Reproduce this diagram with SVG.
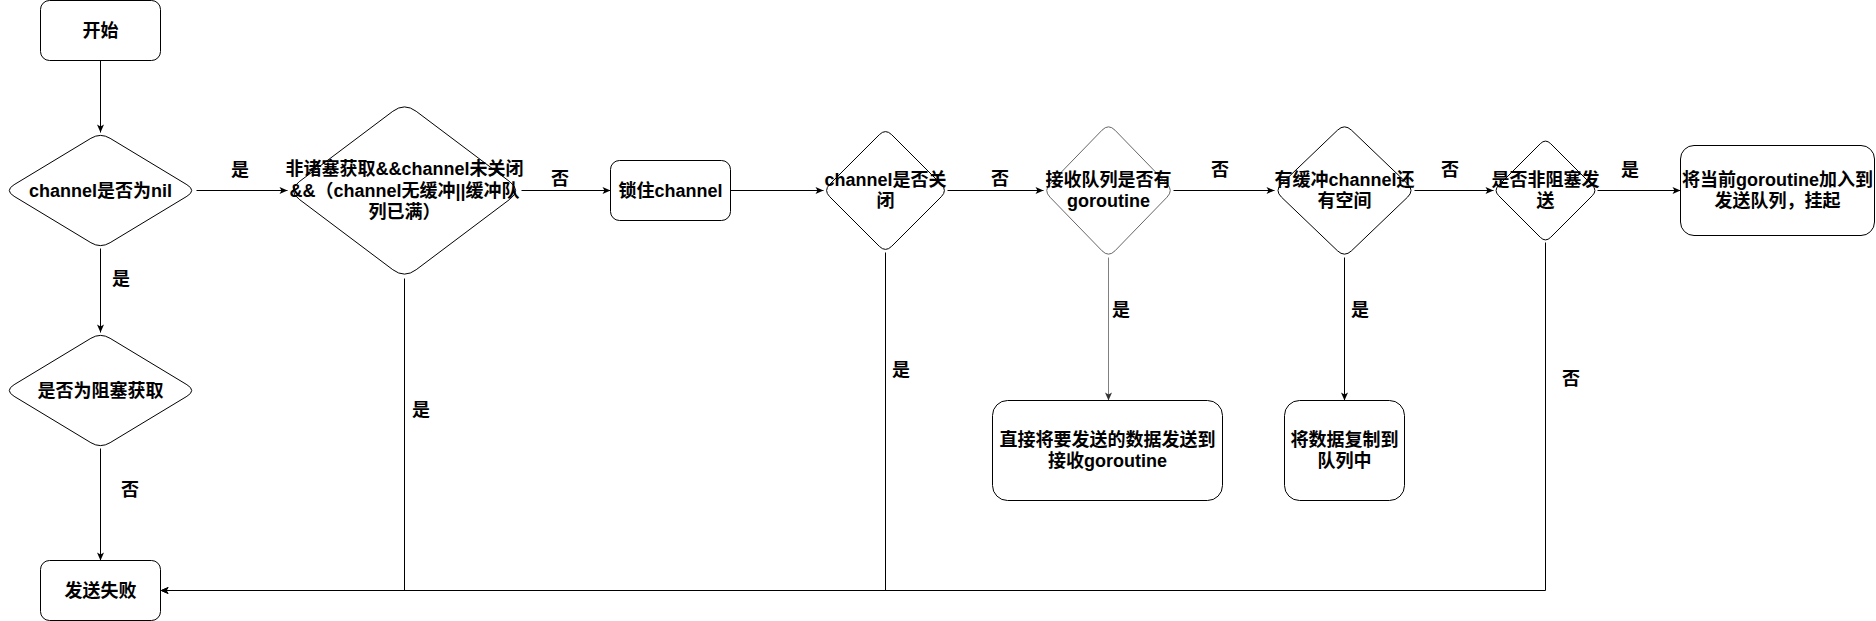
<svg xmlns="http://www.w3.org/2000/svg" width="1876" height="621" viewBox="0 0 1876 621">
<defs>
<style>
.n{fill:#fff;stroke:#000;stroke-width:1}
.t{font-family:"Liberation Sans","Noto Sans CJK SC",sans-serif;font-size:18px;font-weight:bold;fill:#000;text-anchor:middle;dominant-baseline:central}
.e{fill:none;stroke:#000;stroke-width:1;marker-end:url(#arr)}
.eg{fill:none;stroke:#808080;stroke-width:1;marker-end:url(#arrg)}
.el{fill:none;stroke:#000;stroke-width:1}
</style>
<marker id="arr" viewBox="0 0 10 10" refX="9" refY="5" markerWidth="10" markerHeight="10" markerUnits="userSpaceOnUse" orient="auto"><path d="M1,1.5 L9,5 L1,8.5 L3,5 Z" fill="#000"/></marker>
<marker id="arrg" viewBox="0 0 10 10" refX="9" refY="5" markerWidth="10" markerHeight="10" markerUnits="userSpaceOnUse" orient="auto"><path d="M1,1.5 L9,5 L1,8.5 L3,5 Z" fill="#333"/></marker>
</defs>
<rect width="1876" height="621" fill="#fff"/>
<g id="edges">
<path class="e" d="M100.5,60.5 V132.5"/>
<path class="e" d="M196.5,190.5 H287.5"/>
<path class="e" d="M100.5,248.5 V332.5"/>
<path class="e" d="M100.5,448.5 V560.5"/>
<path class="e" d="M521.5,190.5 H610.5"/>
<path class="e" d="M730.5,190.5 H823.5"/>
<path class="e" d="M947.5,190.5 H1043.5"/>
<path class="e" d="M1173.5,190.5 H1274.5"/>
<path class="e" d="M1414.5,190.5 H1493.5"/>
<path class="e" d="M1597.5,190.5 H1680.5"/>
<path class="eg" d="M1108.5,257.5 V400.5"/>
<path class="e" d="M1344.5,257.5 V400.5"/>
<path class="e" d="M404.5,278.5 V590.5 H160.5"/>
<path class="e" d="M885.5,252.5 V590.5 H160.5"/>
<path class="e" d="M1545.5,242.5 V590.5 H160.5"/>
<text class="t" x="240" y="170">是</text>
<text class="t" x="121" y="279">是</text>
<text class="t" x="130" y="490">否</text>
<text class="t" x="421" y="410">是</text>
<text class="t" x="560" y="179">否</text>
<text class="t" x="1000" y="179">否</text>
<text class="t" x="901" y="370">是</text>
<text class="t" x="1220" y="170">否</text>
<text class="t" x="1121" y="310">是</text>
<text class="t" x="1450" y="170">否</text>
<text class="t" x="1360" y="310">是</text>
<text class="t" x="1630" y="170">是</text>
<text class="t" x="1571" y="379">否</text>
</g>
<g id="start">
<rect class="n" x="40.5" y="0.5" width="120" height="60" rx="9"/>
<text class="t" x="100.5" y="30.5">开始</text>
</g>
<g id="isNil">
<path class="n" d="M110.1,138.3 L186.9,184.7 Q196.5,190.5 186.9,196.3 L110.1,242.7 Q100.5,248.5 90.9,242.7 L14.1,196.3 Q4.5,190.5 14.1,184.7 L90.9,138.3 Q100.5,132.5 110.1,138.3 Z"/>
<text class="t" x="100.5" y="190.5">channel是否为nil</text>
</g>
<g id="isBlocking">
<path class="n" d="M110.1,338.3 L186.9,384.7 Q196.5,390.5 186.9,396.3 L110.1,442.7 Q100.5,448.5 90.9,442.7 L14.1,396.3 Q4.5,390.5 14.1,384.7 L90.9,338.3 Q100.5,332.5 110.1,338.3 Z"/>
<text class="t" x="100.5" y="390.5">是否为阻塞获取</text>
</g>
<g id="fail">
<rect class="n" x="40.5" y="560.5" width="120" height="60" rx="9"/>
<text class="t" x="100.5" y="590.5">发送失败</text>
</g>
<g id="nonBlockCheck">
<path class="n" d="M416.2,111.3 L509.8,181.7 Q521.5,190.5 509.8,199.3 L416.2,269.7 Q404.5,278.5 392.8,269.7 L299.2,199.3 Q287.5,190.5 299.2,181.7 L392.8,111.3 Q404.5,102.5 416.2,111.3 Z"/>
<text class="t" x="404.5" y="168.8">非诸塞获取&amp;&amp;channel未关闭</text>
<text class="t" x="404.5" y="190.5">&amp;&amp;（channel无缓冲||缓冲队</text>
<text class="t" x="404.5" y="212.2">列已满）</text>
</g>
<g id="lock">
<rect class="n" x="610.5" y="160.5" width="120" height="60" rx="9"/>
<text class="t" x="670.5" y="190.5">锁住channel</text>
</g>
<g id="isClosed">
<path class="n" d="M891.7,134.7 L941.3,184.3 Q947.5,190.5 941.3,196.7 L891.7,246.3 Q885.5,252.5 879.3,246.3 L829.7,196.7 Q823.5,190.5 829.7,184.3 L879.3,134.7 Q885.5,128.5 891.7,134.7 Z"/>
<text class="t" x="885.5" y="179.7">channel是否关</text>
<text class="t" x="885.5" y="201.3">闭</text>
</g>
<g id="hasReceiver">
<path class="n" style="stroke:#666" d="M1115,130.2 L1167,183.8 Q1173.5,190.5 1167,197.2 L1115,250.8 Q1108.5,257.5 1102,250.8 L1050,197.2 Q1043.5,190.5 1050,183.8 L1102,130.2 Q1108.5,123.5 1115,130.2 Z"/>
<text class="t" x="1108.5" y="179.7">接收队列是否有</text>
<text class="t" x="1108.5" y="201.3">goroutine</text>
</g>
<g id="hasSpace">
<path class="n" d="M1351.5,130.2 L1407.5,183.8 Q1414.5,190.5 1407.5,197.2 L1351.5,250.8 Q1344.5,257.5 1337.5,250.8 L1281.5,197.2 Q1274.5,190.5 1281.5,183.8 L1337.5,130.2 Q1344.5,123.5 1351.5,130.2 Z"/>
<text class="t" x="1344.5" y="179.7">有缓冲channel还</text>
<text class="t" x="1344.5" y="201.3">有空间</text>
</g>
<g id="isNonBlockingSend">
<path class="n" d="M1550.7,143.7 L1592.3,185.3 Q1597.5,190.5 1592.3,195.7 L1550.7,237.3 Q1545.5,242.5 1540.3,237.3 L1498.7,195.7 Q1493.5,190.5 1498.7,185.3 L1540.3,143.7 Q1545.5,138.5 1550.7,143.7 Z"/>
<text class="t" x="1545.5" y="179.7">是否非阻塞发</text>
<text class="t" x="1545.5" y="201.3">送</text>
</g>
<g id="enqueue">
<rect class="n" x="1680.5" y="145.5" width="194" height="90" rx="13.5"/>
<text class="t" x="1777.5" y="179.7">将当前goroutine加入到</text>
<text class="t" x="1777.5" y="201.3">发送队列，挂起</text>
</g>
<g id="directSend">
<rect class="n" x="992.5" y="400.5" width="230" height="100" rx="15"/>
<text class="t" x="1107.5" y="439.7">直接将要发送的数据发送到</text>
<text class="t" x="1107.5" y="461.3">接收goroutine</text>
</g>
<g id="copyToBuffer">
<rect class="n" x="1284.5" y="400.5" width="120" height="100" rx="15"/>
<text class="t" x="1344.5" y="439.7">将数据复制到</text>
<text class="t" x="1344.5" y="461.3">队列中</text>
</g>
</svg>
